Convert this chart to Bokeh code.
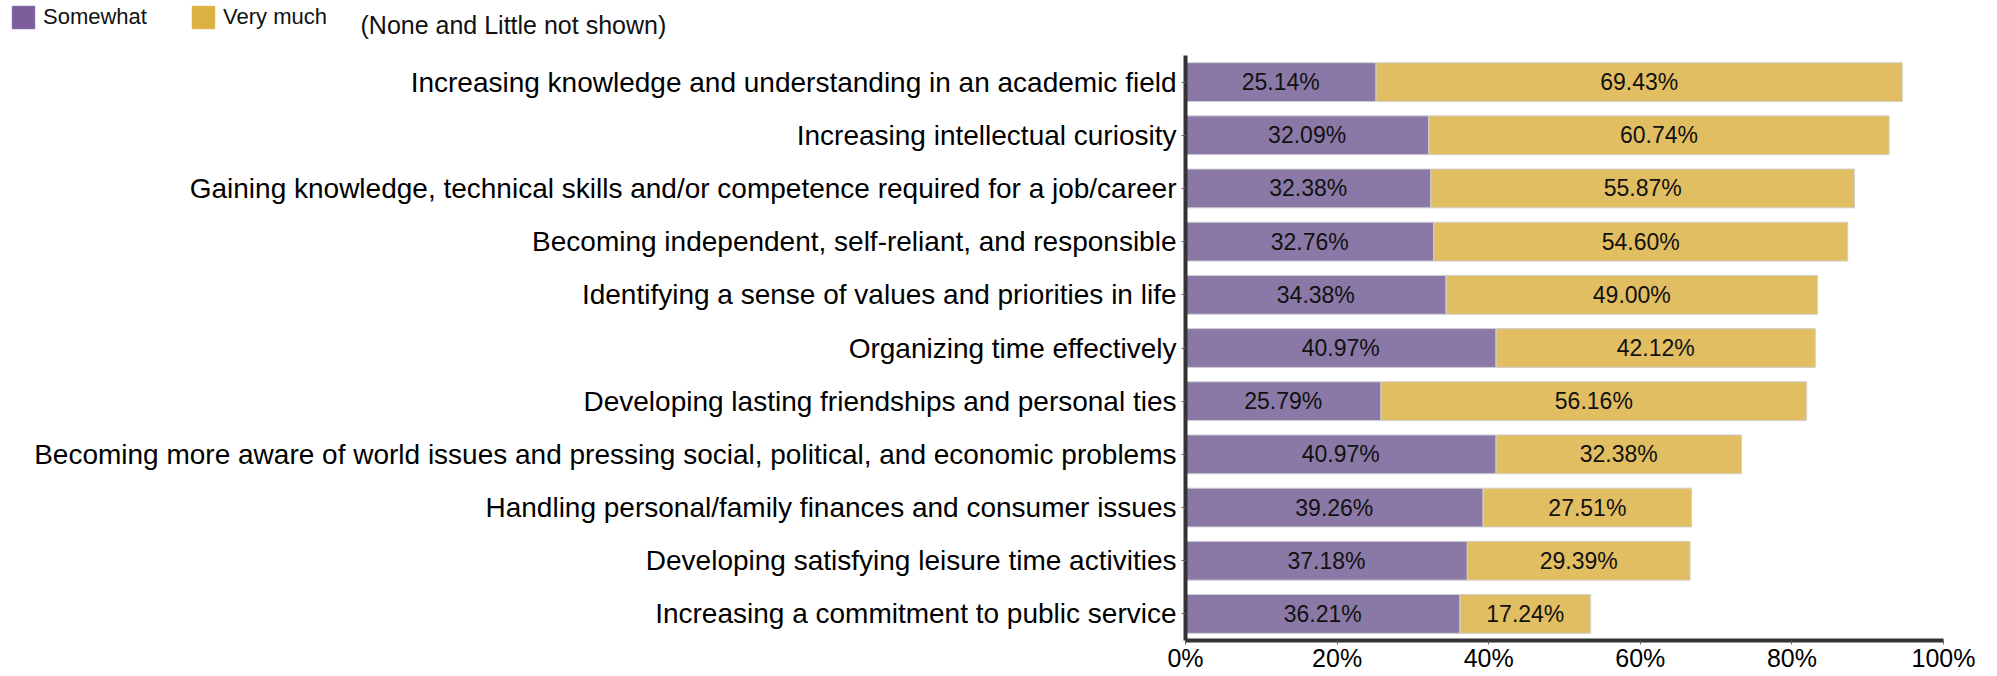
from bokeh.plotting import figure
from bokeh.layouts import column
from bokeh.models import (ColumnDataSource, FactorRange, Range1d, FixedTicker,
                          Legend, LegendItem, Label)
from bokeh.core.properties import value
from bokeh.embed import file_html
from bokeh.resources import INLINE

categories = [
    "Increasing knowledge and understanding in an academic field",
    "Increasing intellectual curiosity",
    "Gaining knowledge, technical skills and/or competence required for a job/career",
    "Becoming independent, self-reliant, and responsible",
    "Identifying a sense of values and priorities in life",
    "Organizing time effectively",
    "Developing lasting friendships and personal ties",
    "Becoming more aware of world issues and pressing social, political, and economic problems",
    "Handling personal/family finances and consumer issues",
    "Developing satisfying leisure time activities",
    "Increasing a commitment to public service",
]
somewhat = [25.14, 32.09, 32.38, 32.76, 34.38, 40.97, 25.79, 40.97, 39.26, 37.18, 36.21]
very_much = [69.43, 60.74, 55.87, 54.60, 49.00, 42.12, 56.16, 32.38, 27.51, 29.39, 17.24]
series_names = ["Somewhat", "Very much"]
note_text = "(None and Little not shown)"
x_ticks = [0, 20, 40, 60, 80, 100]
x_tick_labels = ["0%", "20%", "40%", "60%", "80%", "100%"]

BAR_PURPLE = "#8A79A6"
BAR_GOLD = "#E2BE62"
LEG_PURPLE = "#7B5E9B"
LEG_GOLD = "#DDB042"
FONT = "Liberation Sans"

ends = [s + v for s, v in zip(somewhat, very_much)]
src = ColumnDataSource(dict(
    cat=categories,
    s=somewhat,
    v=very_much,
    end=ends,
    zero=[0] * len(categories),
    s_mid=[s / 2 for s in somewhat],
    v_mid=[s + v / 2 for s, v in zip(somewhat, very_much)],
    s_lab=["%.2f%%" % s for s in somewhat],
    v_lab=["%.2f%%" % v for v in very_much],
))

# ---------- header strip: legend + note ----------
TOP_H = 40
head = figure(width=1997, height=TOP_H, output_backend="svg", toolbar_location=None,
              x_range=Range1d(0, 1997), y_range=Range1d(0, TOP_H),
              min_border=0, min_border_left=0, min_border_right=0,
              min_border_top=0, min_border_bottom=0)
head.frame_align = False
head.axis.visible = False
head.grid.visible = False
head.outline_line_color = None

# legend swatches: glyphs whose single bar lies outside the visible strip
off = ColumnDataSource(dict(y=[-1000], l=[-1000], r=[-999]))
r1 = head.hbar(y="y", left="l", right="r", height=0.5, source=off,
               fill_color=LEG_PURPLE, line_color=LEG_PURPLE)
r2 = head.hbar(y="y", left="l", right="r", height=0.5, source=off,
               fill_color=LEG_GOLD, line_color=LEG_GOLD)
legend = Legend(items=[LegendItem(label=series_names[0], renderers=[r1]),
                       LegendItem(label=series_names[1], renderers=[r2])],
                orientation="horizontal", location=(9, 9),
                glyph_width=28, glyph_height=28, label_standoff=6,
                label_width=140, label_height=28, spacing=6, padding=0, margin=0,
                border_line_color=None, background_fill_alpha=0,
                label_text_font=FONT, label_text_font_size="22px",
                label_text_color="#111111", label_text_baseline="middle")
head.add_layout(legend, "center")
head.add_layout(Label(x=360, y=16, text=note_text, text_font=FONT,
                      text_font_size="25px", text_color="#111111",
                      text_baseline="middle", text_align="left"))

# ---------- main chart ----------
p = figure(width=1997, height=676 - TOP_H, output_backend="svg", toolbar_location=None,
           y_range=FactorRange(factors=list(reversed(categories)), range_padding=0),
           x_range=Range1d(0, 100),
           min_border_left=1185, min_border_right=54, min_border_top=15,
           min_border_bottom=36)
p.frame_align = False
p.outline_line_color = None
p.grid.visible = False
p.background_fill_color = "white"

bar_h = 0.73
p.hbar(y="cat", left="zero", right="s", height=bar_h, source=src,
       fill_color=BAR_PURPLE, line_color="#D0D0D0", line_width=1)
p.hbar(y="cat", left="s", right="end", height=bar_h, source=src,
       fill_color=BAR_GOLD, line_color="#D0D0D0", line_width=1)

p.text(x="s_mid", y="cat", text="s_lab", source=src, text_align="center",
       text_baseline="middle", text_font=value(FONT), text_font_size="23px",
       text_color="#111111")
p.text(x="v_mid", y="cat", text="v_lab", source=src, text_align="center",
       text_baseline="middle", text_font=value(FONT), text_font_size="23px",
       text_color="#111111")

for ax in (p.xaxis[0], p.yaxis[0]):
    ax.axis_line_width = 4
    ax.axis_line_color = "#333333"
    ax.major_tick_line_color = "#666666"
    ax.major_tick_line_width = 1
    ax.major_tick_in = 0
    ax.major_tick_out = 4
    ax.minor_tick_line_color = None
    ax.major_label_text_color = "#000000"
    ax.major_label_text_font = FONT

p.yaxis.major_label_text_font_size = "28px"
p.yaxis.major_label_standoff = 5
p.xaxis.ticker = FixedTicker(ticks=x_ticks)
p.xaxis.major_label_overrides = {t: l for t, l in zip(x_ticks, x_tick_labels)}
p.xaxis.major_label_text_font_size = "25px"
p.xaxis.major_label_standoff = -1

open("out.html", "w").write(file_html(column(head, p, spacing=0), INLINE))
